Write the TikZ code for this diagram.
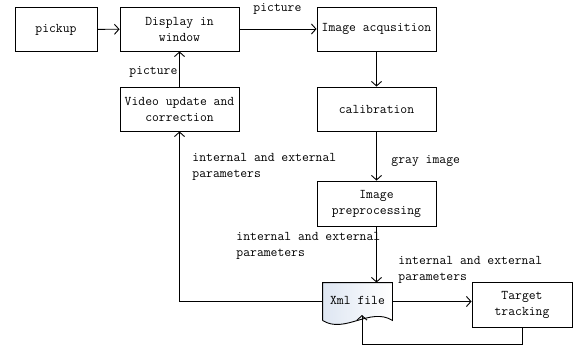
\documentclass[tikz,border=0pt]{standalone}
\usepackage{tikz}
\usetikzlibrary{arrows.meta}

\definecolor{xmlfill}{RGB}{222,230,242}
\tikzset{
  box/.style={draw, minimum width=119pt, minimum height=44pt, align=center, inner sep=1pt},
  lbl/.style={align=left, inner sep=0pt, anchor=north west},
}

\begin{document}
\begin{tikzpicture}[x=1pt, y=-1pt, line width=0.9pt, >={Straight Barb[length=4.5pt,width=10pt]},
    font=\fontsize{13.3}{16}\selectfont\ttfamily]
      \useasboundingbox (0,0) rectangle (573,345);
      % boxes
      \node[box, minimum width=82pt] (pickup) at (56,29.5) {pickup};
      \node[box] (disp) at (179.5,29) {Display in\\window};
      \node[box] (acq) at (376.5,29) {Image acqusition};
      \node[box] (calib) at (376.5,109) {calibration};
      \node[box] (video) at (179.5,109) {Video update and\\correction};
      \node[box, minimum height=45pt] (prep) at (376.5,203.5) {Image\\preprocessing};
      \node[box, minimum width=100pt, minimum height=45pt] (target) at (522,304.5) {Target\\tracking};
      % document shape for the xml file
      \node[minimum width=69pt, minimum height=37pt, inner sep=0pt] (xml) at (357.5,301.5) {};
      \draw[left color=xmlfill, right color=white]
        (xml.south west) -- (xml.north west) -- (xml.north east) -- (xml.south east)
        .. controls +(-22,-14) and +(22,14) .. (xml.south west);
      \node (xmltext) at (357.5,300) {Xml file};

      \draw[->] (pickup) -- (disp);
      \draw[->] (disp) -- (acq);
      \draw[->] (acq) -- (calib);
      \draw[->] (calib) -- (prep);
      \draw[->] (video) -- (disp);
      \draw[->] (prep.south) -- (prep.south |- xml.north);
      \draw[->] (xml.west) -| (video.south);
      \draw[->] (xml.east) -- (xml.east -| target.west);
      \coordinate (loopr) at (522,344);
      \coordinate (loopl) at (362,344);
      \coordinate (xmlbot) at (362,315);
      \draw[->] (target.south) -- (loopr) -- (loopl) -- (xmlbot);

      % labels
      \node[lbl] (l1) at (253,3) {picture};
      \node[lbl] (l2) at (129,66) {picture};
      \node[lbl] (l3) at (192,153) {internal and external\\parameters};
      \node[lbl] (l4) at (391,155) {gray image};
      \node[lbl] (l5) at (236,232) {internal and external\\parameters};
      \node[lbl] (l6) at (398,256) {internal and external\\parameters};
\end{tikzpicture}
\end{document}
